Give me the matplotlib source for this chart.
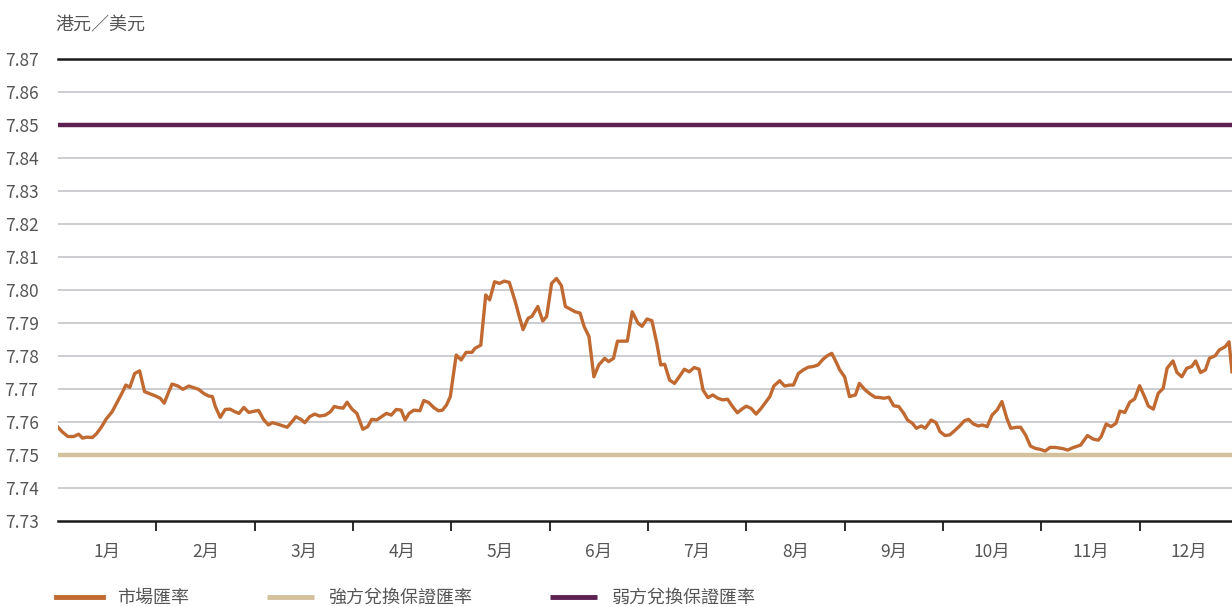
import matplotlib
matplotlib.use("Agg")
import matplotlib.pyplot as plt
import numpy as np

plt.rcParams['font.family'] = ['Noto Sans CJK TC', 'DejaVu Sans']

# time in months since 1 Jan (month boundaries at integers)
t = [0.00, 0.04, 0.10, 0.16, 0.21, 0.25, 0.29, 0.35, 0.39, 0.44, 0.49, 0.55, 0.60, 0.65, 0.69, 0.73,
     0.78, 0.83, 0.88, 0.94, 0.99, 1.04, 1.08, 1.12, 1.16, 1.22, 1.27, 1.33, 1.38, 1.43, 1.48, 1.53,
     1.57, 1.60, 1.65, 1.70, 1.75, 1.80, 1.84, 1.89, 1.94, 2.00, 2.04, 2.09, 2.14, 2.18, 2.24, 2.29,
     2.33, 2.38, 2.42, 2.47, 2.51, 2.56, 2.61, 2.66, 2.72, 2.77, 2.81, 2.85, 2.90, 2.94, 2.99, 3.04,
     3.10, 3.15, 3.19, 3.24, 3.29, 3.34, 3.39, 3.44, 3.49, 3.53, 3.57, 3.62, 3.68, 3.72, 3.77, 3.82,
     3.87, 3.91, 3.95, 3.99, 4.01, 4.05, 4.10, 4.15, 4.21, 4.24, 4.30, 4.35, 4.39, 4.44, 4.49, 4.54,
     4.59, 4.65, 4.70, 4.73, 4.78, 4.82, 4.88, 4.93, 4.97, 5.02, 5.07, 5.12, 5.16, 5.21, 5.26, 5.31,
     5.35, 5.40, 5.45, 5.50, 5.56, 5.60, 5.65, 5.69, 5.79, 5.84, 5.90, 5.94, 5.99, 6.04, 6.09, 6.13,
     6.17, 6.22, 6.27, 6.33, 6.37, 6.42, 6.47, 6.52, 6.56, 6.61, 6.66, 6.71, 6.76, 6.81, 6.86, 6.91,
     6.95, 7.00, 7.05, 7.10, 7.15, 7.19, 7.24, 7.28, 7.34, 7.39, 7.44, 7.48, 7.53, 7.58, 7.63, 7.68,
     7.73, 7.78, 7.82, 7.87, 7.92, 7.95, 8.00, 8.05, 8.11, 8.15, 8.21, 8.26, 8.31, 8.36, 8.40, 8.45,
     8.50, 8.55, 8.60, 8.64, 8.69, 8.73, 8.78, 8.82, 8.88, 8.93, 8.97, 9.02, 9.07, 9.12, 9.17, 9.22,
     9.26, 9.31, 9.36, 9.40, 9.45, 9.50, 9.55, 9.60, 9.65, 9.69, 9.75, 9.79, 9.84, 9.89, 9.94, 9.99,
     10.04, 10.09, 10.14, 10.21, 10.27, 10.32, 10.40, 10.47, 10.53, 10.58, 10.61, 10.66, 10.71, 10.76,
     10.80, 10.85, 10.90, 10.95, 11.00, 11.05, 11.09, 11.14, 11.19, 11.24, 11.28, 11.34, 11.38, 11.43,
     11.48, 11.53, 11.57, 11.62, 11.67, 11.71, 11.77, 11.81, 11.87, 11.91, 11.94]

market_rate = [7.7584, 7.7571, 7.7556, 7.7556, 7.7563, 7.7551, 7.7554, 7.7553, 7.7564, 7.7584, 7.7609,
               7.7631, 7.7659, 7.7687, 7.7712, 7.7705, 7.7747, 7.7755, 7.7692, 7.7685, 7.7679, 7.7672,
               7.7657, 7.7687, 7.7715, 7.7709, 7.7699, 7.7709, 7.7704, 7.7699, 7.7687, 7.7679, 7.7677,
               7.7647, 7.7614, 7.7638, 7.7639, 7.7631, 7.7626, 7.7644, 7.7629, 7.7633, 7.7635, 7.7608,
               7.7591, 7.7598, 7.7593, 7.7588, 7.7584, 7.7601, 7.7616, 7.7608, 7.7598, 7.7616, 7.7624,
               7.7618, 7.7621, 7.7631, 7.7647, 7.7644, 7.7642, 7.7660, 7.7639, 7.7626, 7.7578, 7.7586,
               7.7608, 7.7606, 7.7616, 7.7626, 7.7621, 7.7638, 7.7636, 7.7606, 7.7626, 7.7636, 7.7634,
               7.7665, 7.7659, 7.7644, 7.7634, 7.7636, 7.7651, 7.7677, 7.7720, 7.7803, 7.7788, 7.7811,
               7.7811, 7.7823, 7.7833, 7.7985, 7.7970, 7.8025, 7.8020, 7.8027, 7.8023, 7.7965, 7.7910,
               7.7880, 7.7914, 7.7920, 7.7950, 7.7906, 7.7920, 7.8020, 7.8035, 7.8013, 7.7950, 7.7942,
               7.7934, 7.7930, 7.7890, 7.7859, 7.7737, 7.7773, 7.7793, 7.7783, 7.7793, 7.7845, 7.7845,
               7.7934, 7.7899, 7.7890, 7.7912, 7.7907, 7.7839, 7.7773, 7.7775, 7.7727, 7.7717, 7.7742,
               7.7760, 7.7752, 7.7765, 7.7760, 7.7697, 7.7674, 7.7682, 7.7672, 7.7667, 7.7669, 7.7647,
               7.7628, 7.7638, 7.7648, 7.7641, 7.7624, 7.7641, 7.7657, 7.7677, 7.7709, 7.7725, 7.7709,
               7.7712, 7.7712, 7.7747, 7.7758, 7.7766, 7.7768, 7.7773, 7.7790, 7.7800, 7.7808, 7.7778,
               7.7758, 7.7737, 7.7677, 7.7682, 7.7717, 7.7697, 7.7685, 7.7675, 7.7674, 7.7672, 7.7675,
               7.7649, 7.7647, 7.7627, 7.7606, 7.7596, 7.7581, 7.7588, 7.7581, 7.7606, 7.7598, 7.7571,
               7.7559, 7.7561, 7.7574, 7.7588, 7.7604, 7.7608, 7.7594, 7.7588, 7.7591, 7.7586, 7.7621,
               7.7636, 7.7662, 7.7611, 7.7581, 7.7584, 7.7584, 7.7561, 7.7527, 7.7520, 7.7517, 7.7512,
               7.7523, 7.7523, 7.7520, 7.7515, 7.7522, 7.7530, 7.7559, 7.7548, 7.7545, 7.7556, 7.7594,
               7.7586, 7.7596, 7.7633, 7.7629, 7.7660, 7.7670, 7.7710, 7.7677, 7.7648, 7.7639, 7.7687,
               7.7702, 7.7763, 7.7785, 7.7750, 7.7737, 7.7763, 7.7768, 7.7785, 7.7750, 7.7758, 7.7793,
               7.7801, 7.7818, 7.7828, 7.7843, 7.7752]

strong_side = 7.75
weak_side = 7.85

months = ['1月', '2月', '3月', '4月', '5月', '6月', '7月', '8月', '9月', '10月', '11月', '12月']
series_names = ['市場匯率', '強方兌換保證匯率', '弱方兌換保證匯率']
y_title = '港元／美元'
y_ticks = [7.73, 7.74, 7.75, 7.76, 7.77, 7.78, 7.79, 7.80, 7.81, 7.82, 7.83, 7.84, 7.85, 7.86, 7.87]

C_MARKET = '#c06a32'
C_STRONG = '#d3c19d'
C_WEAK = '#5c2150'
C_GRID = '#c4c4ca'
C_TEXT = '#555555'

W, H = 1232, 607
fig = plt.figure(figsize=(W / 100, H / 100), dpi=100)
ax = fig.add_axes([58 / W, 1 - 521 / H, 1 - 58 / W, (521 - 59) / H])

xmax = 11.94
ax.set_xlim(0, xmax)
ax.set_ylim(7.73, 7.87)

for v in y_ticks:
    if v in (7.73, 7.87):
        continue
    ax.axhline(v, color=C_GRID, lw=1.2, zorder=1)
ax.axhline(7.87, color='#1a1a1a', lw=1.8, zorder=2, clip_on=False)

ax.plot([0, xmax], [strong_side, strong_side], color=C_STRONG, lw=3.2, zorder=3,
        solid_capstyle='butt', label=series_names[1])
ax.plot([0, xmax], [weak_side, weak_side], color=C_WEAK, lw=3.2, zorder=3,
        solid_capstyle='butt', label=series_names[2])
ax.plot(t, market_rate, color=C_MARKET, lw=2.4, zorder=4, label=series_names[0],
        solid_joinstyle='round')

for s in ['top', 'right', 'left']:
    ax.spines[s].set_visible(False)
ax.spines['bottom'].set_color('#1a1a1a')
ax.spines['bottom'].set_linewidth(1.8)
ax.spines['bottom'].set_zorder(5)

ax.set_yticks(y_ticks)
ax.set_yticklabels([f'{v:.2f}' for v in y_ticks])
ax.tick_params(axis='y', length=0, pad=14, labelsize=12.5, labelcolor=C_TEXT)

ax.set_xticks(range(1, 12))
ax.set_xticklabels([])
ax.tick_params(axis='x', which='major', length=7, width=1.3, color='#1a1a1a', direction='out')
ax.set_xticks([i + 0.5 for i in range(12)], minor=True)
ax.set_xticklabels(months, minor=True)
ax.tick_params(axis='x', which='minor', length=0, pad=16, labelsize=12.5, labelcolor=C_TEXT)

fig.text(55 / W, 1 - 25 / H, y_title, fontsize=13, color=C_TEXT, va='center', ha='left')

h, l = ax.get_legend_handles_labels()
order = [2, 0, 1]
leg = fig.legend([h[i] for i in order], [l[i] for i in order], ncol=3, frameon=False,
                 loc='center left', bbox_to_anchor=(56 / W, 1 - 598 / H),
                 borderpad=0, borderaxespad=0, handlelength=2.6, handletextpad=0.78,
                 columnspacing=4.32, fontsize=13)
for txt in leg.get_texts():
    txt.set_color(C_TEXT)
for line in leg.get_lines():
    line.set_linewidth(3.5)

fig.savefig('out.png', dpi=100)
